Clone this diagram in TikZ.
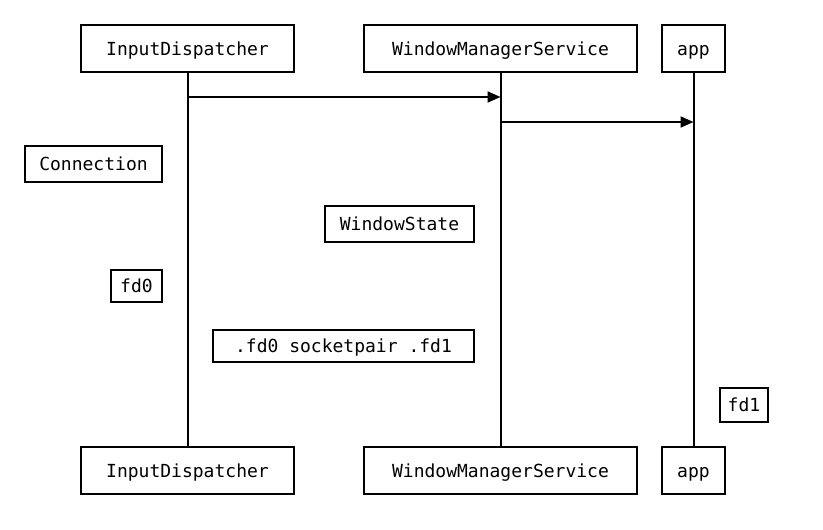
\documentclass[tikz,border=0pt]{standalone}
\usepackage{fontspec}
\setmonofont{DejaVu Sans Mono}
\usetikzlibrary{arrows.meta}

\begin{document}
\begin{tikzpicture}[
		x=1pt, y=-1pt,
		font=\ttfamily\fontsize{18}{20}\selectfont,
		arrow/.style={-{Triangle[length=13pt,width=11pt]}, line width=2pt},
		life/.style={line width=2pt},
		actor/.style={rectangle, draw, line width=2pt, minimum height=47pt,
			inner sep=0pt, text height=15pt, text depth=2pt, fill=white},
		note/.style={rectangle, draw, line width=2pt, minimum height=34pt,
			inner sep=0pt, text height=15pt, text depth=2pt, fill=white}
		]
		\useasboundingbox (0,0) rectangle (823,530);
		
		% ---- Participants, top row ----
		\node[actor, minimum width=213pt] (dispTop) at (187.5, 48.5) {InputDispatcher};
		\node[actor, minimum width=273pt] (wmsTop)  at (500.5, 48.5) {WindowManagerService};
		\node[actor, minimum width=63pt]  (appTop)  at (693.5, 48.5) {app};
		
		% ---- Participants, bottom row ----
		\node[actor, minimum width=213pt] (dispBot) at (187.5, 470.5) {InputDispatcher};
		\node[actor, minimum width=273pt] (wmsBot)  at (500.5, 470.5) {WindowManagerService};
		\node[actor, minimum width=63pt]  (appBot)  at (693.5, 470.5) {app};
		
		% ---- Lifelines ----
		\draw[life] (dispTop) -- (dispBot);
		\draw[life] (wmsTop) -- (wmsBot);
		\draw[life] (appTop) -- (appBot);
		
		% ---- Messages ----
		\coordinate (m1) at (dispTop.south |- 0,97);
		\coordinate (m2) at (wmsTop.south |- 0,122);
		\draw[arrow] (m1) -- (m1 -| wmsTop.south);
		\draw[arrow] (m2) -- (m2 -| appTop.south);
		
		% ---- Notes ----
		\node[note, minimum width=137pt, minimum height=36pt] (conn)  at (93.5, 164) {Connection};
		\node[note, minimum width=149pt, minimum height=36pt] (state) at (399.5, 224) {WindowState};
		\node[note, minimum width=51pt, minimum height=32pt]  (fdZero) at (136.5, 286) {fd0};
		\node[note, minimum width=261pt, minimum height=32pt] (pair)  at (343.5, 346) {.fd0 socketpair .fd1};
		\node[note, minimum width=48pt]                       (fdOne) at (744, 405) {fd1};
	\end{tikzpicture}
\end{document}
